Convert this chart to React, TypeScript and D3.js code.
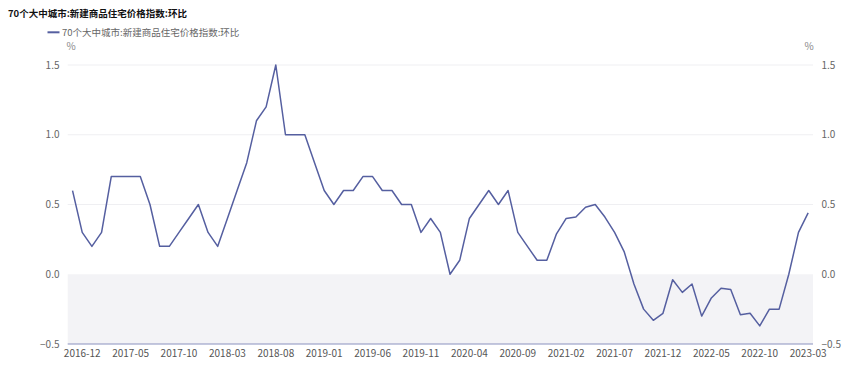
import React, { useEffect, useRef } from 'react'
import * as d3 from 'd3'

const title = '70个大中城市:新建商品住宅价格指数:环比'
const seriesName = '70个大中城市:新建商品住宅价格指数:环比'

// monthly values, 2016-11 .. 2023-03
const firstMonth = '2016-11'
const lastMonth = '2023-03'
const values = [
  0.6, 0.3, 0.2, 0.3, 0.7, 0.7, 0.7, 0.7, 0.5, 0.2, 0.2, 0.3, 0.4, 0.5, 0.3, 0.2,
  0.4, 0.6, 0.8, 1.1, 1.2, 1.5, 1.0, 1.0, 1.0, 0.8, 0.6, 0.5, 0.6, 0.6, 0.7, 0.7,
  0.6, 0.6, 0.5, 0.5, 0.3, 0.4, 0.3, 0.0, 0.1, 0.4, 0.5, 0.6, 0.5, 0.6, 0.3, 0.2,
  0.1, 0.1, 0.29, 0.4, 0.41, 0.48, 0.5, 0.41, 0.3, 0.16, -0.07, -0.25, -0.33, -0.28,
  -0.04, -0.13, -0.07, -0.3, -0.17, -0.1, -0.11, -0.29, -0.28, -0.37, -0.25, -0.25,
  0.0, 0.3, 0.44
]
const xTickLabels = [
  '2016-12', '2017-05', '2017-10', '2018-03', '2018-08', '2019-01', '2019-06', '2019-11',
  '2020-04', '2020-09', '2021-02', '2021-07', '2021-12', '2022-05', '2022-10', '2023-03'
]
const yTicks = [-0.5, 0.0, 0.5, 1.0, 1.5]

const fmtMonth = d3.timeFormat('%Y-%m')
const parseMonth = d3.timeParse('%Y-%m')
const categories = d3.timeMonth
  .range(parseMonth(firstMonth) as Date, d3.timeMonth.offset(parseMonth(lastMonth) as Date, 1))
  .map(fmtMonth)

const W = 847
const H = 367
const FONT = "'Noto Sans CJK SC', 'Noto Sans', sans-serif"

export default function App () {
  const ref = useRef<SVGSVGElement>(null)

  useEffect(() => {
    const svg = d3.select(ref.current)
    svg.selectAll('*').remove()

    const left = 67.7
    const right = 813
    const x = d3.scaleBand().domain(categories).range([left, right]).padding(0)
    const y = d3.scaleLinear().domain([-0.5, 1.5]).range([344, 65])
    const cx = (c: string) => (x(c) as number) + x.bandwidth() / 2

    // title
    svg.append('text')
      .attr('x', 8).attr('y', 17)
      .attr('font-size', 9.5).attr('font-weight', 'bold')
      .attr('fill', '#111')
      .text(title)

    // legend
    svg.append('line')
      .attr('x1', 47.5).attr('x2', 59.5).attr('y1', 32.3).attr('y2', 32.3)
      .attr('stroke', '#555fa0').attr('stroke-width', 2)
    svg.append('text')
      .attr('x', 62).attr('y', 35.6)
      .attr('font-size', 9.5).attr('fill', '#666')
      .text(seriesName)

    // units
    svg.append('text').attr('x', 71).attr('y', 49.5).attr('text-anchor', 'middle')
      .attr('font-size', 10).attr('fill', '#888').text('%')
    svg.append('text').attr('x', 809).attr('y', 49.5).attr('text-anchor', 'middle')
      .attr('font-size', 10).attr('fill', '#888').text('%')

    // shaded negative zone
    svg.append('rect')
      .attr('x', left).attr('y', y(0))
      .attr('width', right - left).attr('height', y(-0.5) - y(0))
      .attr('fill', '#f3f3f6')

    // grid
    svg.append('g').selectAll('line')
      .data(yTicks.filter(t => t > 0))
      .enter().append('line')
      .attr('x1', left).attr('x2', right)
      .attr('y1', d => y(d)).attr('y2', d => y(d))
      .attr('stroke', '#efeff2').attr('stroke-width', 1)

    // axis labels, both sides
    const yl = svg.append('g').attr('font-size', 10).attr('fill', '#666')
    yl.selectAll('.l').data(yTicks).enter().append('text')
      .attr('class', 'l')
      .attr('x', 59.5).attr('y', d => y(d) + 3.5)
      .attr('text-anchor', 'end')
      .text(d => d3.format('.1f')(d))
    yl.selectAll('.r').data(yTicks).enter().append('text')
      .attr('class', 'r')
      .attr('x', 821.5).attr('y', d => y(d) + 3.5)
      .text(d => d3.format('.1f')(d))

    // x axis
    svg.append('line')
      .attr('x1', left).attr('x2', right).attr('y1', 344).attr('y2', 344)
      .attr('stroke', '#8a91bf').attr('stroke-width', 1)
    svg.append('g').selectAll('text')
      .data(xTickLabels)
      .enter().append('text')
      .attr('x', d => cx(d))
      .attr('y', 357)
      .attr('text-anchor', 'middle')
      .attr('font-size', 10).attr('fill', '#555')
      .text(d => d)

    // series line
    const line = d3.line<number>()
      .x((d, i) => cx(categories[i]))
      .y(d => y(d))
    svg.append('path')
      .datum(values)
      .attr('d', line)
      .attr('fill', 'none')
      .attr('stroke', '#555fa0')
      .attr('stroke-width', 1.5)
      .attr('stroke-linejoin', 'round')
  }, [])

  return (
    <svg
      ref={ref}
      width={W}
      height={H}
      style={{ position: 'absolute', left: 0, top: 0, background: '#fff', fontFamily: FONT }}
    />
  )
}
